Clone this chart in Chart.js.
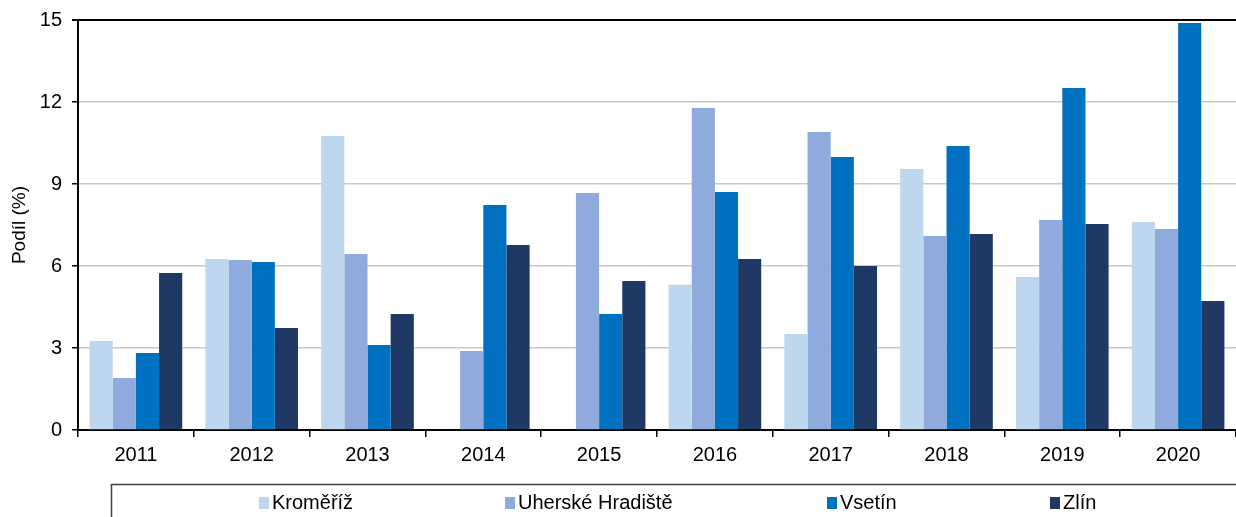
<!DOCTYPE html>
<html>
<head>
<meta charset="utf-8">
<script src="https://cdn.jsdelivr.net/npm/chart.js@4.4.1/dist/chart.umd.min.js"></script>
<style>
html,body{margin:0;padding:0;background:#fff;}
#wrap{width:1236px;height:517px;}
</style>
</head>
<body>
<div id="wrap"><canvas id="c" width="1236" height="517"></canvas></div>
<script>
const categories = ['2011','2012','2013','2014','2015','2016','2017','2018','2019','2020'];
const seriesNames = ['Kroměříž','Uherské Hradiště','Vsetín','Zlín'];
const kromeriz = [3.26, 6.26, 10.76, 0, 0, 5.31, 3.51, 9.55, 5.60, 7.61];
const uherskeHradiste = [1.90, 6.22, 6.44, 2.89, 8.67, 11.78, 10.90, 7.10, 7.68, 7.35];
const vsetin = [2.82, 6.15, 3.11, 8.23, 4.24, 8.71, 9.99, 10.39, 12.51, 14.89];
const zlin = [5.74, 3.73, 4.24, 6.77, 5.45, 6.26, 6.00, 7.17, 7.54, 4.72];
const yTicks = [0, 3, 6, 9, 12, 15];

const colors = ['#BDD7EE', '#8FAADC', '#0070C0', '#203864'];
const FONT = '"Liberation Sans", Arial, sans-serif';

const legendPlugin = {
  id: 'customLegend',
  afterDraw(chart) {
    const ctx = chart.ctx;
    ctx.save();
    ctx.strokeStyle = '#404040';
    ctx.lineWidth = 1.5;
    ctx.strokeRect(111.5, 484.5, 1200, 100);
    const xs = [259, 505, 827, 1050];
    ctx.font = '20px ' + FONT;
    ctx.textBaseline = 'middle';
    ctx.textAlign = 'left';
    seriesNames.forEach((n, i) => {
      ctx.fillStyle = colors[i];
      ctx.fillRect(xs[i], 497, 10, 12);
      ctx.fillStyle = '#000';
      ctx.fillText(n, xs[i] + 13, 503);
    });
    ctx.restore();
  }
};

const data = {
  labels: categories,
  datasets: [kromeriz, uherskeHradiste, vsetin, zlin].map((d, i) => ({
    label: seriesNames[i],
    data: d,
    backgroundColor: colors[i],
    borderWidth: 0,
    barPercentage: 1.0,
    categoryPercentage: 0.8
  }))
};

new Chart(document.getElementById('c'), {
  type: 'bar',
  data: data,
  plugins: [legendPlugin],
  options: {
    responsive: false,
    devicePixelRatio: 1,
    animation: false,
    layout: { padding: { top: 20, right: 0, bottom: 47, left: 8 } },
    plugins: { legend: { display: false }, tooltip: { enabled: false } },
    scales: {
      x: {
        offset: true,
        grid: { offset: true, drawOnChartArea: false, drawTicks: true, tickLength: 7, tickColor: '#000', lineWidth: 1.5 },
        border: { color: '#000', width: 2 },
        ticks: { color: '#000', font: { family: FONT, size: 20 }, padding: 6 },
        afterFit(s) { s.height = 40; }
      },
      y: {
        min: 0, max: 15,
        afterBuildTicks(s) { s.ticks = yTicks.map(v => ({ value: v })); },
        grid: {
          color: c => (c.tick && c.tick.value === 15) ? '#000' : '#c8c8c8',
          lineWidth: c => (c.tick && c.tick.value === 15) ? 2 : 1.5,
          tickColor: '#000', tickLength: 6, drawTicks: true
        },
        border: { color: '#000', width: 2 },
        ticks: { color: '#000', font: { family: FONT, size: 20, lineHeight: 1 }, padding: 10 },
        title: { display: true, text: 'Podíl (%)', color: '#000', font: { family: FONT, size: 19 }, padding: { top: 0, bottom: 0 } },
        afterFit(s) { s.width = 70; s.paddingTop = 0; s.paddingBottom = 0; }
      }
    }
  }
});
</script>
</body>
</html>
